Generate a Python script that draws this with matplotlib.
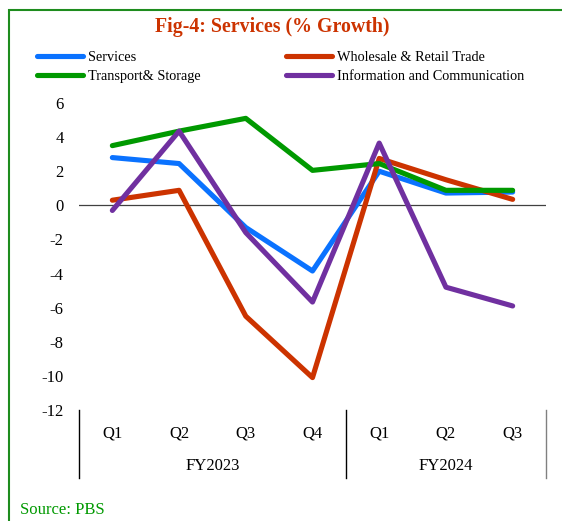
import matplotlib.pyplot as plt
from matplotlib.patches import Rectangle
from matplotlib.lines import Line2D
import matplotlib.transforms as mtransforms

plt.rcParams['font.family'] = ['Liberation Serif', 'DejaVu Serif']
plt.rcParams['axes.unicode_minus'] = False

quarters = ['Q1', 'Q2', 'Q3', 'Q4', 'Q1', 'Q2', 'Q3']
years = ['FY2023', 'FY2024']
services = [2.8, 2.45, -1.3, -3.85, 2.0, 0.72, 0.78]
wholesale = [0.3, 0.88, -6.5, -10.1, 2.75, 1.5, 0.35]
transport = [3.5, 4.35, 5.1, 2.05, 2.45, 0.88, 0.88]
info = [-0.3, 4.35, -1.6, -5.67, 3.65, -4.8, -5.9]

fig = plt.figure(figsize=(5.62, 5.21), dpi=100)
ax = fig.add_axes([79/562, 1-410/521, (546-79)/562, (410-103)/521])

x = range(len(quarters))
lw = 3.7
l1, = ax.plot(x, services, color='#0A72FF', lw=lw, solid_capstyle='round', label='Services')
l2, = ax.plot(x, wholesale, color='#CC3300', lw=lw, solid_capstyle='round', label='Wholesale & Retail Trade')
l3, = ax.plot(x, transport, color='#009900', lw=lw, solid_capstyle='round', label='Transport& Storage')
l4, = ax.plot(x, info, color='#7030A0', lw=lw, solid_capstyle='round', label='Information and Communication')

ax.axhline(0, color='#404040', lw=0.9, zorder=0)
ax.set_xlim(-0.5, 6.5)
ax.set_ylim(-12, 6)
ax.set_yticks(range(-12, 7, 2))
ax.tick_params(axis='y', length=0, labelsize=12, pad=11)
ax.set_xticks([])
for s in ax.spines.values():
    s.set_visible(False)

# category axis
tr = mtransforms.blended_transform_factory(ax.transData, ax.transAxes)
for i, q in enumerate(quarters):
    ax.text(i, -0.075, q, transform=tr, ha='center', va='center', fontsize=12)
ax.text(1.5, -0.183, years[0], transform=tr, ha='center', va='center', fontsize=12)
ax.text(5, -0.183, years[1], transform=tr, ha='center', va='center', fontsize=12)
for xs, c in [(-0.5, 'black'), (3.5, 'black'), (6.5, '#808080')]:
    ax.add_line(Line2D([xs, xs], [0, -0.22], transform=tr, color=c, lw=1, clip_on=False))

fig.text(272/562, 1-27/521, 'Fig-4: Services (% Growth)', ha='center', va='center',
         fontsize=14.3, fontweight='bold', color='#CC3300')
fig.text(20/562, 1-510/521, 'Source: PBS', ha='left', va='center', fontsize=12, color='#009900')

fig.legend(handles=[l1, l3, l2, l4], ncol=2, loc='center left',
           bbox_to_anchor=(24/562, 1-67/521), frameon=False, fontsize=10.3,
           handlelength=3.2, handletextpad=0.35, columnspacing=6.0, labelspacing=0.38)

fig.add_artist(Rectangle((9/562, -0.05), 1.0, 1-10/521+0.05, transform=fig.transFigure,
                         fill=False, edgecolor='#1E8C1E', lw=1.5))

fig.savefig('out.png', dpi=100)
